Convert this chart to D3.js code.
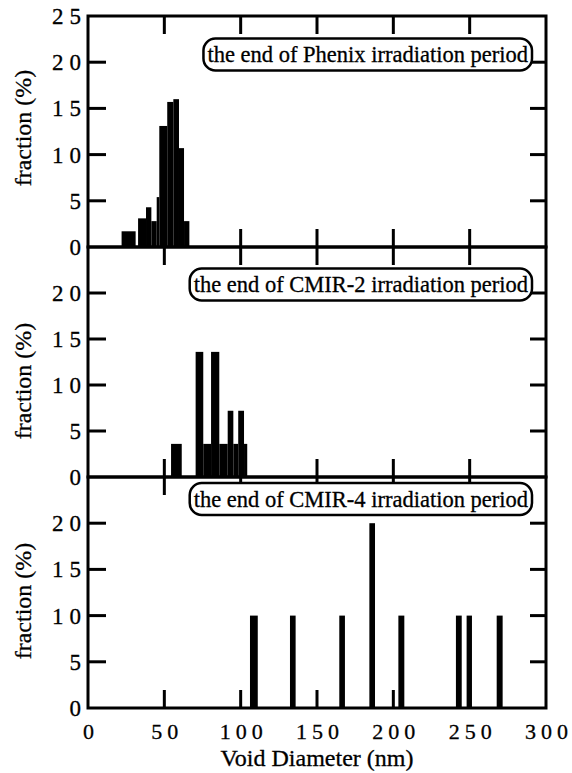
<!DOCTYPE html>
<html>
<head>
<meta charset="utf-8">
<script src="https://cdn.jsdelivr.net/npm/d3@7"></script>
<style>
    body { margin: 0; background: white; }
    #chart-area { width: 572px; height: 773px; }
    text { font-family: "Liberation Serif", "Times New Roman", serif; fill: black; stroke: black; stroke-width: 0.3px; }
</style>
</head>
<body>
<div id="chart-area"></div>
<script>
// axis ticks
const xTicks = [0, 50, 100, 150, 200, 250, 300];
const yTicks = [0, 5, 10, 15, 20, 25];

const panelNames = ["the end of Phenix irradiation period",
    "the end of CMIR-2 irradiation period",
    "the end of CMIR-4 irradiation period"];

// histogram bins: start / end diameter (nm), fraction (%)
const phenixStart = [22, 32.8, 38, 41.5, 45, 46.7, 51.9, 55.9, 59.6, 62.9];
const phenixEnd   = [31.2, 38, 41.5, 45, 46.7, 51.9, 55.9, 59.6, 62.9, 66.4];
const phenixFrac  = [1.7, 3.1, 4.3, 2.8, 5.4, 13.1, 15.7, 16.0, 10.7, 2.8];

const cmir2Start = [54.4, 70.5, 75.5, 80.6, 86, 91.5, 95.2, 98.4, 102.2];
const cmir2End   = [61.4, 75.5, 80.6, 86, 91.5, 95.2, 98.4, 102.2, 104.3];
const cmir2Frac  = [3.6, 13.6, 3.6, 13.6, 3.6, 7.2, 3.6, 7.2, 3.6];

const cmir4Start = [106.1, 132.3, 164.6, 184.3, 203.3, 241, 248, 267.7];
const cmir4End   = [111.2, 136, 168.3, 188, 207.2, 244.8, 251.5, 271.6];
const cmir4Frac  = [10, 10, 10, 20, 10, 10, 10, 10];

function toBins(starts, ends, fracs){
    return starts.map((s, i) => ({x0: s, x1: ends[i], value: fracs[i]}));
}

class VoidHistogram {
    constructor(parentElement){
        this.parentElement = parentElement;
        this.panels = [
            {name: panelNames[0], bins: toBins(phenixStart, phenixEnd, phenixFrac)},
            {name: panelNames[1], bins: toBins(cmir2Start, cmir2End, cmir2Frac)},
            {name: panelNames[2], bins: toBins(cmir4Start, cmir4End, cmir4Frac)}
        ];
        this.initVis();
    }

    initVis(){
        let vis = this;

        vis.width = 572;
        vis.height = 773;
        vis.left = 88;
        vis.right = 546;
        vis.tops = [16, 247, 477];
        vis.bottoms = [247, 477, 708];
        // label box vertical centre and y-label centre for each panel
        vis.boxY = [54.5, 284.5, 499];
        vis.yLabelY = [128, 381, 601];
        vis.tickLen = 18;

        vis.svg = d3.select("#" + vis.parentElement).append("svg")
            .attr("width", vis.width)
            .attr("height", vis.height);

        vis.x = d3.scaleLinear()
            .domain([0, 300])
            .range([vis.left, vis.right]);

        vis.panels.forEach((p, i) => vis.drawPanel(p, i));

        // x tick labels under the last panel
        vis.svg.selectAll(".x-label")
            .data(xTicks)
            .enter().append("text")
            .attr("class", "x-label")
            .attr("x", d => vis.x(d) + 3)
            .attr("y", 739)
            .attr("text-anchor", "middle")
            .style("font-size", "22px")
            .style("letter-spacing", "5px")
            .text(d => d);

        vis.svg.append("text")
            .attr("x", (vis.left + vis.right) / 2)
            .attr("y", 766)
            .attr("text-anchor", "middle")
            .style("font-size", "24px")
            .text("Void Diameter (nm)");
    }

    drawPanel(panel, i){
        let vis = this;
        let top = vis.tops[i], bottom = vis.bottoms[i];

        let y = d3.scaleLinear()
            .domain([0, 25])
            .range([bottom, top]);

        let g = vis.svg.append("g").attr("class", "panel");

        //bars
        g.selectAll(".bar")
            .data(panel.bins)
            .enter().append("rect")
            .attr("class", "bar")
            .attr("x", d => vis.x(d.x0))
            .attr("width", d => vis.x(d.x1) - vis.x(d.x0))
            .attr("y", d => y(d.value))
            .attr("height", d => y(0) - y(d.value))
            .attr("fill", "black");

        let inner = xTicks.filter(t => t > 0 && t < 300);
        let yInner = yTicks.filter(t => t > 0 && t < 25);

        // ticks pointing inward on all four sides
        let tickStyle = sel => sel.attr("stroke", "black").attr("stroke-width", 3);

        g.selectAll(".xt-top").data(inner).enter().append("line")
            .attr("x1", d => vis.x(d)).attr("x2", d => vis.x(d))
            .attr("y1", top).attr("y2", top + vis.tickLen)
            .call(tickStyle);
        g.selectAll(".xt-bot").data(inner).enter().append("line")
            .attr("x1", d => vis.x(d)).attr("x2", d => vis.x(d))
            .attr("y1", bottom).attr("y2", bottom - vis.tickLen)
            .call(tickStyle);
        g.selectAll(".yt-left").data(yInner).enter().append("line")
            .attr("x1", vis.left).attr("x2", vis.left + vis.tickLen)
            .attr("y1", d => y(d)).attr("y2", d => y(d))
            .call(tickStyle);
        g.selectAll(".yt-right").data(yInner).enter().append("line")
            .attr("x1", vis.right).attr("x2", vis.right - 16)
            .attr("y1", d => y(d)).attr("y2", d => y(d))
            .call(tickStyle);

        //frame
        g.append("rect")
            .attr("x", vis.left)
            .attr("y", top)
            .attr("width", vis.right - vis.left)
            .attr("height", bottom - top)
            .attr("fill", "none")
            .attr("stroke", "black")
            .attr("stroke-width", 3);

        // y tick labels, top panel also gets 25
        let labels = i == 0 ? yTicks : yTicks.filter(t => t < 25);
        g.selectAll(".y-label")
            .data(labels)
            .enter().append("text")
            .attr("class", "y-label")
            .attr("x", 81 + 6)
            .attr("y", d => y(d))
            .attr("dy", "0.35em")
            .attr("text-anchor", "end")
            .style("font-size", "23px")
            .style("letter-spacing", "6px")
            .text(d => d);

        g.append("text")
            .attr("transform", "translate(23," + vis.yLabelY[i] + ") rotate(-90)")
            .attr("text-anchor", "middle")
            .attr("dy", "0.35em")
            .style("font-size", "24px")
            .text("fraction (%)");

        // label in rounded box
        let box = g.append("rect")
            .attr("fill", "white")
            .attr("stroke", "black")
            .attr("stroke-width", 2.5)
            .attr("rx", 12);
        let label = g.append("text")
            .attr("x", 528)
            .attr("y", vis.boxY[i])
            .attr("dy", "0.35em")
            .attr("text-anchor", "end")
            .style("font-size", "22.5px")
            .text(panel.name);
        let w = label.node().getComputedTextLength();
        box.attr("x", 528 - w - 4)
            .attr("y", vis.boxY[i] - 16)
            .attr("width", w + 8)
            .attr("height", 32);
    }
}

new VoidHistogram("chart-area");
</script>
</body>
</html>
